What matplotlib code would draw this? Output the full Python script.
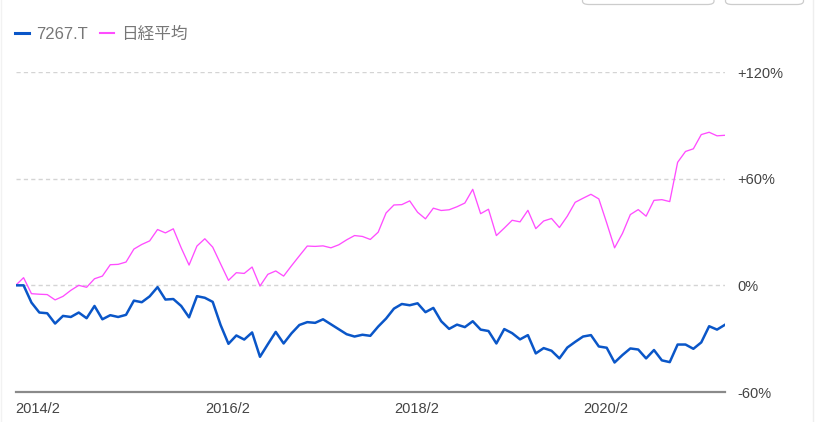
import matplotlib.pyplot as plt
from matplotlib.lines import Line2D
from matplotlib.patches import FancyBboxPatch

plt.rcParams['font.family'] = ['Liberation Sans', 'Noto Sans CJK JP', 'DejaVu Sans']

# monthly change from 2014/2 (%)
honda = [0, 0, -9.7, -15.3, -15.7, -21.5, -17.2, -17.8, -15.3, -18.5,
         -11.6, -19.1, -16.8, -17.8, -16.6, -8.6, -9.5, -6.2, -1.0, -8.0,
         -7.7, -11.6, -18.0, -6.1, -7.0, -9.3, -22.3, -32.9, -28.2, -30.5,
         -26.5, -40.2, -33.1, -26.2, -32.7, -27.0, -22.3, -20.7, -21.1, -19.1,
         -21.9, -24.7, -27.5, -28.8, -27.8, -28.4, -23.2, -18.7, -13.1, -10.5,
         -11.2, -10.1, -15.1, -12.7, -20.2, -24.5, -22.1, -23.5, -20.2, -24.9,
         -25.7, -32.7, -24.6, -26.9, -30.4, -28.0, -38.3, -35.3, -36.8, -41.1,
         -35.0, -31.8, -28.8, -28.0, -34.4, -35.1, -43.4, -39.2, -35.5, -36.1,
         -41.1, -36.4, -42.2, -43.2, -33.3, -33.3, -35.7, -32.1, -23.0, -24.9,
         -22.2]
nikkei = [0, 4.3, -4.7, -5.0, -5.2, -8.2, -6.2, -2.8, 0, -1.1,
          3.7, 5.2, 11.6, 11.8, 13.1, 20.4, 23.0, 25.0, 31.4, 29.5,
          31.8, 21.1, 11.4, 22.1, 26.2, 21.5, 12.1, 2.8, 7.1, 6.7,
          10.3, -0.4, 6.2, 8.1, 5.2, 11.0, 16.6, 22.1, 21.9, 22.2,
          21.1, 22.8, 25.6, 28.0, 27.5, 25.8, 29.9, 40.7, 45.2, 45.4,
          47.5, 41.1, 37.4, 43.4, 42.1, 42.5, 44.2, 46.3, 54.0, 40.3,
          42.8, 28.0, 32.2, 36.6, 35.7, 42.2, 31.9, 36.2, 37.6, 32.5,
          38.9, 46.7, 49.0, 51.2, 48.6, 35.1, 21.1, 29.2, 39.8, 42.6,
          38.9, 47.8, 48.2, 47.1, 69.2, 75.3, 76.8, 84.8, 86.1, 84.1,
          84.4]
x = list(range(len(honda)))

xtick_pos = [0, 24, 48, 72]
xtick_labels = ['2014/2', '2016/2', '2018/2', '2020/2']
ytick_pos = [120, 60, 0, -60]
ytick_labels = ['+120%', '+60%', '0%', '-60%']
legend_names = ['7267.T', '日経平均']

blue = '#0a56c8'
pink = '#ff4dff'

W, H = 820, 422
fig = plt.figure(figsize=(W / 100, H / 100), dpi=100)
ax = fig.add_axes([15.7 / W, 30 / H, (724.9 - 15.7) / W, 320 / H])

# dashed grid lines, solid base line
for v in [0, 60, 120]:
    ax.axhline(v, color='#d4d4d4', lw=1.0, ls=(0, (3, 2.3)), zorder=1)
ax.axhline(-60, color='#8a8a8a', lw=1.6, zorder=1, clip_on=False)

ax.plot(x, nikkei, color=pink, lw=0.95, zorder=3)
ax.plot(x, honda, color=blue, lw=1.8, zorder=4)

ax.set_xlim(0, len(x) - 1)
ax.set_ylim(-60, 120)
for s in ax.spines.values():
    s.set_visible(False)

ax.yaxis.tick_right()
ax.set_yticks(ytick_pos)
ax.set_yticklabels(ytick_labels)
ax.tick_params(axis='y', length=0, pad=9, labelsize=10.5, labelcolor='#444444')

ax.set_xticks(xtick_pos)
ax.set_xticklabels(xtick_labels, ha='left')
ax.tick_params(axis='x', length=0, pad=7, labelsize=10.5, labelcolor='#444444')

handles = [Line2D([], [], color=blue, lw=2.2), Line2D([], [], color=pink, lw=1.5)]
fig.legend(handles, legend_names, loc='center left', bbox_to_anchor=(15 / W, 1 - 34 / H),
           ncol=2, frameon=False, fontsize=12, labelcolor='#777777',
           borderpad=0, borderaxespad=0,
           handlelength=0.85, handletextpad=0.4, columnspacing=0.75)

# bits of the page around the chart
for x0, x1 in [(582.5, 714), (725.5, 803.5)]:
    fig.patches.append(FancyBboxPatch((x0 / W, (H - 4.5) / H), (x1 - x0) / W, 24 / H,
                                      boxstyle='round,pad=0,rounding_size=0.008',
                                      transform=fig.transFigure, facecolor='white',
                                      edgecolor='#cccccc', lw=0.9))
fig.add_artist(Line2D([813 / W, 813 / W], [0, 1], color='#eeeeee', lw=1.0))
fig.add_artist(Line2D([1 / W, 1 / W], [0, 1], color='#f2f2f2', lw=1.0))

fig.savefig('out.png', dpi=100)
